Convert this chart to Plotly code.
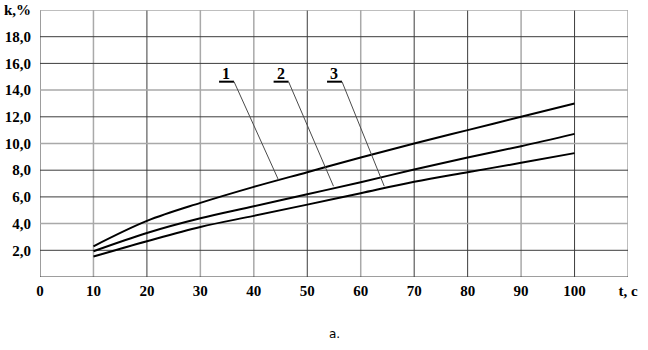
import plotly.graph_objects as go

# ---- data ----
t_values = [10, 20, 30, 40, 50, 60, 70, 80, 90, 100]
k_curve1 = [2.30, 4.20, 5.55, 6.75, 7.85, 8.95, 10.0, 11.0, 12.0, 13.0]
k_curve2 = [1.93, 3.30, 4.40, 5.30, 6.20, 7.10, 8.05, 8.95, 9.80, 10.72]
k_curve3 = [1.53, 2.68, 3.75, 4.58, 5.42, 6.28, 7.13, 7.85, 8.55, 9.28]
curve_names = ["1", "2", "3"]

x_tickvals = [0, 10, 20, 30, 40, 50, 60, 70, 80, 90, 100, 110]
x_ticktext = ["0", "10", "20", "30", "40", "50", "60", "70", "80", "90", "100", "t, c"]
y_tickvals = [0, 2, 4, 6, 8, 10, 12, 14, 16, 18, 20]
y_ticktext = ["", "2,0", "4,0", "6,0", "8,0", "10,0", "12,0", "14,0", "16,0", "18,0", "k,%"]

# label placement: (text x, text y, leader end x, leader end y)
label_text_x = [34.8, 45.0, 55.0]
label_text_y = [15.25, 15.25, 15.25]
leader_end_x = [44.6, 54.9, 64.4]
leader_end_y = [7.28, 6.80, 6.80]

# gridline shades (scan look)
x_grid_dark = [True, False, True, False, False, True, False, True, True, False, True, False]
y_grid_dark = [True, True, False, True, True, False, True, False, True, True, False]

DARK = "#3c3c3c"
LIGHT = "#a9a9a9"
SERIF = "Liberation Serif, Times New Roman, serif"

fig = go.Figure()
for name, ys in zip(curve_names, [k_curve1, k_curve2, k_curve3]):
    fig.add_trace(go.Scatter(x=t_values, y=ys, mode="lines", name=name,
                             line=dict(color="black", width=2, shape="spline", smoothing=1.0),
                             showlegend=False, hoverinfo="x+y"))

shapes = []
for v, dark in zip(x_tickvals, x_grid_dark):
    shapes.append(dict(type="line", xref="x", yref="y", x0=v, x1=v,
                       y0=y_tickvals[0], y1=y_tickvals[-1],
                       line=dict(color=DARK if dark else LIGHT, width=1 if dark else 1.5),
                       layer="below"))
for v, dark in zip(y_tickvals, y_grid_dark):
    shapes.append(dict(type="line", xref="x", yref="y", y0=v, y1=v,
                       x0=x_tickvals[0], x1=x_tickvals[-1],
                       line=dict(color=DARK if dark else LIGHT, width=1 if dark else 1.5),
                       layer="below"))

annotations = []
for name, tx, ty, ex, ey in zip(curve_names, label_text_x, label_text_y, leader_end_x, leader_end_y):
    annotations.append(dict(x=tx, y=ty, xref="x", yref="y", text=name,
                            showarrow=False,
                            font=dict(family=SERIF, size=16, color="black", weight="bold")))
    ux0, ux1 = tx - 1.3, tx + 1.5
    uy = ty - 0.62
    shapes.append(dict(type="line", xref="x", yref="y", x0=ux0, x1=ux1, y0=uy, y1=uy,
                       line=dict(color="black", width=2)))
    shapes.append(dict(type="line", xref="x", yref="y", x0=ux1, x1=ex, y0=uy, y1=ey,
                       line=dict(color="#4a4a4a", width=1)))

annotations.append(dict(x=0.5, y=0, xref="paper", yref="paper", yanchor="middle", yshift=-57,
                        text="a.", showarrow=False,
                        font=dict(family="DejaVu Sans, sans-serif", size=12, color="black")))

tickfont = dict(family=SERIF, size=15, color="black", weight="bold")
fig.update_layout(
    width=648, height=350,
    margin=dict(l=40, r=20, t=10, b=73, autoexpand=False),
    paper_bgcolor="white", plot_bgcolor="white",
    shapes=shapes, annotations=annotations,
    xaxis=dict(range=[x_tickvals[0], x_tickvals[-1]], tickvals=x_tickvals, ticktext=x_ticktext,
               showgrid=False, zeroline=False, showline=False, ticks="", automargin=False,
               tickfont=tickfont, ticklabelstandoff=3),
    yaxis=dict(range=[y_tickvals[0], y_tickvals[-1]], tickvals=y_tickvals, ticktext=y_ticktext,
               showgrid=False, zeroline=False, showline=False, ticks="", automargin=False,
               tickfont=tickfont, ticklabelstandoff=8),
)

fig.write_html("out.html")
